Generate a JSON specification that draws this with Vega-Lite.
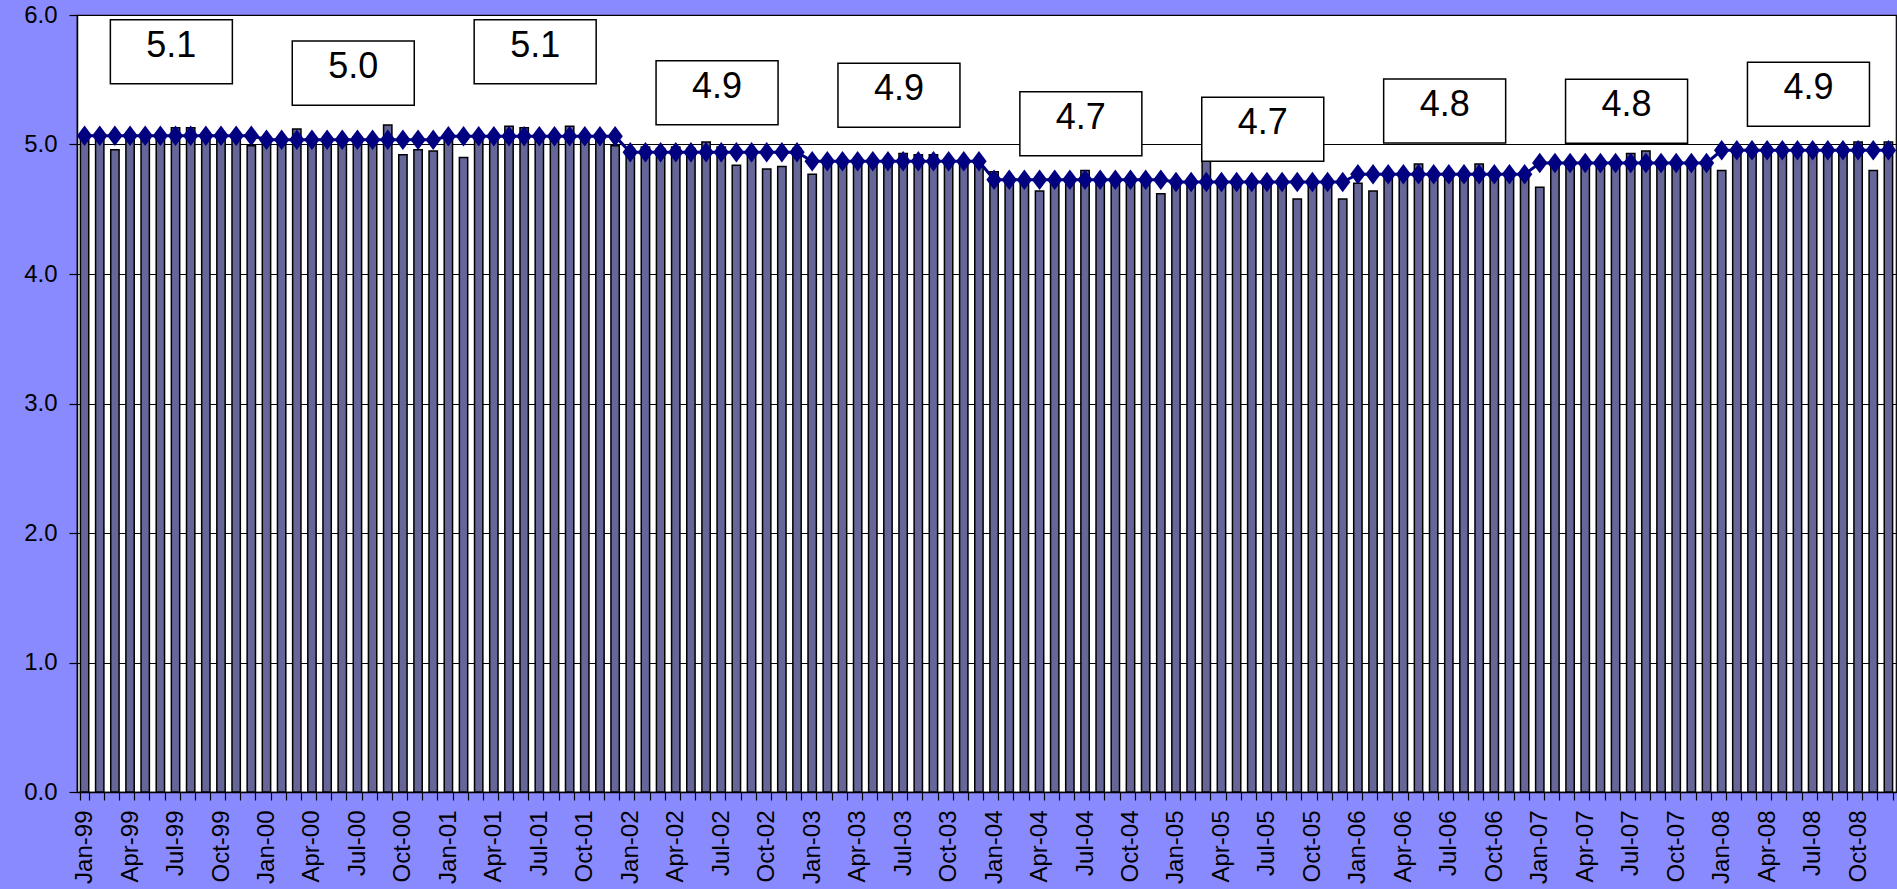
{
  "$schema": "https://vega.github.io/schema/vega-lite/v6.json",
  "width": 1819,
  "height": 777,
  "autosize": {"type": "none"},
  "padding": {"left": 77, "top": 15, "right": 1, "bottom": 97},
  "background": "#8a8aff",
  "config": {
    "font": "Liberation Sans",
    "view": {"stroke": "#000000", "strokeWidth": 1.2, "fill": "#ffffff"},
    "axis": {"labelColor": "#000000", "domainColor": "#000000", "tickColor": "#000000", "labelFont": "Liberation Sans", "labelFontSize": 24, "tickSize": 8, "domainWidth": 1.5, "tickWidth": 1.2}
  },
  "data": {"values": [
    {"d":"1999-01","v":5.07,"a":5.068},{"d":"1999-02","v":5.08,"a":5.068},{"d":"1999-03","v":4.96,"a":5.068},{"d":"1999-04","v":5.08,"a":5.068},{"d":"1999-05","v":5.07,"a":5.068},{"d":"1999-06","v":5.08,"a":5.068},{"d":"1999-07","v":5.13,"a":5.068,"lbl":"5.1","ly":5.716},{"d":"1999-08","v":5.13,"a":5.068},{"d":"1999-09","v":5.07,"a":5.068},{"d":"1999-10","v":5.08,"a":5.068},{"d":"1999-11","v":5.07,"a":5.068},{"d":"1999-12","v":4.99,"a":5.068},
    {"d":"2000-01","v":5.05,"a":5.037},{"d":"2000-02","v":5.04,"a":5.037},{"d":"2000-03","v":5.12,"a":5.037},{"d":"2000-04","v":5.05,"a":5.037},{"d":"2000-05","v":5.04,"a":5.037},{"d":"2000-06","v":5.05,"a":5.037},{"d":"2000-07","v":5.06,"a":5.037,"lbl":"5.0","ly":5.551},{"d":"2000-08","v":5.05,"a":5.037},{"d":"2000-09","v":5.15,"a":5.037},{"d":"2000-10","v":4.92,"a":5.037},{"d":"2000-11","v":4.96,"a":5.037},{"d":"2000-12","v":4.95,"a":5.037},
    {"d":"2001-01","v":5.07,"a":5.063},{"d":"2001-02","v":4.90,"a":5.063},{"d":"2001-03","v":5.06,"a":5.063},{"d":"2001-04","v":5.07,"a":5.063},{"d":"2001-05","v":5.14,"a":5.063},{"d":"2001-06","v":5.13,"a":5.063},{"d":"2001-07","v":5.07,"a":5.063,"lbl":"5.1","ly":5.716},{"d":"2001-08","v":5.06,"a":5.063},{"d":"2001-09","v":5.14,"a":5.063},{"d":"2001-10","v":5.07,"a":5.063},{"d":"2001-11","v":5.06,"a":5.063},{"d":"2001-12","v":4.99,"a":5.063},
    {"d":"2002-01","v":4.97,"a":4.94},{"d":"2002-02","v":4.98,"a":4.94},{"d":"2002-03","v":4.97,"a":4.94},{"d":"2002-04","v":4.98,"a":4.94},{"d":"2002-05","v":4.97,"a":4.94},{"d":"2002-06","v":5.02,"a":4.94},{"d":"2002-07","v":4.98,"a":4.94,"lbl":"4.9","ly":5.399},{"d":"2002-08","v":4.84,"a":4.94},{"d":"2002-09","v":4.96,"a":4.94},{"d":"2002-10","v":4.81,"a":4.94},{"d":"2002-11","v":4.83,"a":4.94},{"d":"2002-12","v":4.97,"a":4.94},
    {"d":"2003-01","v":4.77,"a":4.87},{"d":"2003-02","v":4.86,"a":4.87},{"d":"2003-03","v":4.87,"a":4.87},{"d":"2003-04","v":4.86,"a":4.87},{"d":"2003-05","v":4.87,"a":4.87},{"d":"2003-06","v":4.86,"a":4.87},{"d":"2003-07","v":4.93,"a":4.87,"lbl":"4.9","ly":5.380},{"d":"2003-08","v":4.92,"a":4.87},{"d":"2003-09","v":4.92,"a":4.87},{"d":"2003-10","v":4.86,"a":4.87},{"d":"2003-11","v":4.86,"a":4.87},{"d":"2003-12","v":4.86,"a":4.87},
    {"d":"2004-01","v":4.79,"a":4.728},{"d":"2004-02","v":4.74,"a":4.728},{"d":"2004-03","v":4.73,"a":4.728},{"d":"2004-04","v":4.64,"a":4.728},{"d":"2004-05","v":4.74,"a":4.728},{"d":"2004-06","v":4.73,"a":4.728},{"d":"2004-07","v":4.80,"a":4.728,"lbl":"4.7","ly":5.161},{"d":"2004-08","v":4.74,"a":4.728},{"d":"2004-09","v":4.74,"a":4.728},{"d":"2004-10","v":4.73,"a":4.728},{"d":"2004-11","v":4.74,"a":4.728},{"d":"2004-12","v":4.62,"a":4.728},
    {"d":"2005-01","v":4.72,"a":4.71},{"d":"2005-02","v":4.71,"a":4.71},{"d":"2005-03","v":4.92,"a":4.71},{"d":"2005-04","v":4.72,"a":4.71},{"d":"2005-05","v":4.71,"a":4.71},{"d":"2005-06","v":4.72,"a":4.71},{"d":"2005-07","v":4.72,"a":4.71,"lbl":"4.7","ly":5.117},{"d":"2005-08","v":4.71,"a":4.71},{"d":"2005-09","v":4.58,"a":4.71},{"d":"2005-10","v":4.72,"a":4.71},{"d":"2005-11","v":4.71,"a":4.71},{"d":"2005-12","v":4.58,"a":4.71},
    {"d":"2006-01","v":4.70,"a":4.77},{"d":"2006-02","v":4.64,"a":4.77},{"d":"2006-03","v":4.78,"a":4.77},{"d":"2006-04","v":4.77,"a":4.77},{"d":"2006-05","v":4.85,"a":4.77},{"d":"2006-06","v":4.78,"a":4.77},{"d":"2006-07","v":4.77,"a":4.77,"lbl":"4.8","ly":5.259},{"d":"2006-08","v":4.78,"a":4.77},{"d":"2006-09","v":4.85,"a":4.77},{"d":"2006-10","v":4.77,"a":4.77},{"d":"2006-11","v":4.78,"a":4.77},{"d":"2006-12","v":4.77,"a":4.77},
    {"d":"2007-01","v":4.67,"a":4.857},{"d":"2007-02","v":4.86,"a":4.857},{"d":"2007-03","v":4.86,"a":4.857},{"d":"2007-04","v":4.86,"a":4.857},{"d":"2007-05","v":4.86,"a":4.857},{"d":"2007-06","v":4.86,"a":4.857},{"d":"2007-07","v":4.93,"a":4.857,"lbl":"4.8","ly":5.256},{"d":"2007-08","v":4.95,"a":4.857},{"d":"2007-09","v":4.86,"a":4.857},{"d":"2007-10","v":4.86,"a":4.857},{"d":"2007-11","v":4.86,"a":4.857},{"d":"2007-12","v":4.85,"a":4.857},
    {"d":"2008-01","v":4.80,"a":4.955},{"d":"2008-02","v":4.98,"a":4.955},{"d":"2008-03","v":4.97,"a":4.955},{"d":"2008-04","v":4.98,"a":4.955},{"d":"2008-05","v":4.98,"a":4.955},{"d":"2008-06","v":4.97,"a":4.955},{"d":"2008-07","v":4.98,"a":4.955,"lbl":"4.9","ly":5.388},{"d":"2008-08","v":4.98,"a":4.955},{"d":"2008-09","v":4.98,"a":4.955},{"d":"2008-10","v":5.02,"a":4.955},{"d":"2008-11","v":4.80,"a":4.955},{"d":"2008-12","v":5.02,"a":4.955}
  ]},
  "encoding": {
    "x": {
      "field": "d", "timeUnit": "utcyearmonth", "type": "ordinal",
      "scale": {"paddingInner": 0.45, "paddingOuter": 0.225},
      "axis": {
        "title": null, "labelAngle": -90, "labelPadding": 10, "tickBand": "extent",
        "labelOverlap": false, "grid": false, "labelFontSize": 24,
        "labelExpr": "utcmonth(datum.value) % 3 == 0 ? utcFormat(datum.value, '%b-%y') : ''"
      }
    }
  },
  "layer": [
    {
      "mark": {"type": "bar", "fill": "#666699", "stroke": "#000000", "strokeWidth": 1.5},
      "encoding": {
        "y": {"field": "v", "type": "quantitative", "scale": {"domain": [0, 6], "nice": false},
          "axis": {"title": null, "values": [0, 1, 2, 3, 4, 5, 6], "format": ".1f", "grid": true, "gridColor": "#000000", "gridWidth": 1, "gridOpacity": 1, "labelPadding": 12}}
      }
    },
    {
      "mark": {"type": "line", "color": "#000080", "strokeWidth": 3},
      "encoding": {"y": {"field": "a", "type": "quantitative"}}
    },
    {
      "mark": {"type": "point", "shape": "M-0.75,0L0,-1L0.75,0L0,1Z", "filled": true, "size": 420, "color": "#000080", "opacity": 1},
      "encoding": {"y": {"field": "a", "type": "quantitative"}}
    },
    {
      "transform": [{"filter": "datum.lbl != null"}],
      "mark": {"type": "point", "shape": "M-1,-0.525H1V0.525H-1Z", "size": 14884, "filled": true, "fill": "#ffffff", "stroke": "#000000", "strokeWidth": 1.5, "opacity": 1},
      "encoding": {
        "x": {"field": "d", "timeUnit": "utcyearmonth", "type": "ordinal", "bandPosition": 0},
        "y": {"field": "ly", "type": "quantitative"}
      }
    },
    {
      "transform": [{"filter": "datum.lbl != null"}],
      "mark": {"type": "text", "fontSize": 36, "dy": -6, "color": "#000000", "font": "Liberation Sans"},
      "encoding": {
        "x": {"field": "d", "timeUnit": "utcyearmonth", "type": "ordinal", "bandPosition": 0},
        "y": {"field": "ly", "type": "quantitative"},
        "text": {"field": "lbl", "type": "nominal"}
      }
    }
  ]
}
